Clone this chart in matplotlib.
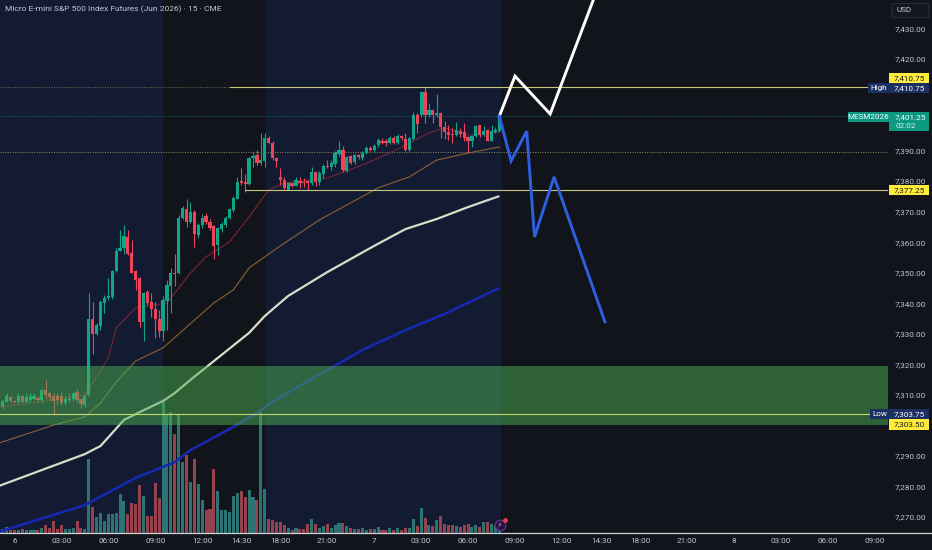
import matplotlib
matplotlib.use("Agg")
import matplotlib.pyplot as plt
from matplotlib.patches import Rectangle, FancyBboxPatch
from matplotlib.lines import Line2D

plt.rcParams['font.family'] = ['Roboto', 'DejaVu Sans']

# candles, 15 minute bars, first bar has index -3
bar_index = list(range(-3, 125))
opens = [7306.25, 7307.75, 7309.25, 7308.0, 7307.75, 7309.5, 7307.75, 7308.25, 7308.5, 7309.0,
         7308.25, 7311.5, 7310.5, 7309.5, 7309.5, 7309.5, 7307.25, 7308.25, 7308.5, 7311.0,
         7308.5, 7306.75, 7310.0, 7335.0, 7330.0, 7332.5, 7340.0, 7341.75, 7342.0, 7350.5,
         7357.25, 7358.0, 7361.75, 7356.5, 7350.5, 7348.25, 7333.75, 7343.75, 7340.25, 7338.25,
         7334.75, 7331.0, 7340.75, 7345.75, 7350.0, 7349.75, 7368.0, 7371.0, 7366.75, 7369.75,
         7362.5, 7365.5, 7368.5, 7366.75, 7365.25, 7359.0, 7364.25, 7365.75, 7368.0, 7370.5,
         7374.25, 7380.0, 7379.75, 7379.0, 7387.5, 7388.5, 7386.0, 7386.5, 7394.0, 7392.5,
         7387.5, 7381.5, 7380.25, 7377.25, 7379.25, 7378.5, 7380.0, 7379.75, 7380.0, 7379.25,
         7383.0, 7379.75, 7382.5, 7385.0, 7384.5, 7385.75, 7388.75, 7390.25, 7383.25, 7388.25,
         7386.25, 7388.5, 7387.5, 7389.25, 7391.0, 7390.25, 7391.75, 7393.25, 7393.25, 7392.5,
         7394.25, 7392.5, 7394.75, 7393.75, 7390.25, 7393.75, 7401.5, 7401.5, 7409.25, 7401.5,
         7403.25, 7401.5, 7402.25, 7397.75, 7396.25, 7395.25, 7395.0, 7396.5, 7396.0, 7394.5,
         7393.0, 7394.75, 7398.25, 7395.0, 7396.75, 7393.25, 7396.0, 7396.5]
closes = [7308.0, 7309.5, 7308.0, 7307.5, 7309.5, 7307.75, 7309.25, 7309.5, 7309.5, 7308.25,
          7311.5, 7310.0, 7309.25, 7308.0, 7308.25, 7307.25, 7308.75, 7308.75, 7310.75, 7308.25,
          7307.0, 7309.75, 7335.0, 7330.0, 7333.0, 7340.25, 7341.75, 7342.25, 7350.5, 7357.25,
          7358.25, 7362.0, 7356.25, 7350.0, 7347.75, 7333.75, 7343.25, 7340.0, 7338.25, 7334.75,
          7331.0, 7341.0, 7346.0, 7350.0, 7349.5, 7368.0, 7371.25, 7366.75, 7370.0, 7362.75,
          7365.5, 7368.0, 7366.5, 7364.75, 7358.75, 7364.75, 7366.0, 7368.0, 7370.75, 7374.5,
          7379.75, 7379.25, 7379.0, 7387.5, 7388.25, 7386.0, 7387.0, 7394.0, 7392.5, 7387.5,
          7386.5, 7380.5, 7377.75, 7379.5, 7378.5, 7380.25, 7379.5, 7379.25, 7379.25, 7383.0,
          7379.75, 7382.75, 7385.0, 7384.5, 7386.0, 7389.25, 7390.25, 7383.5, 7387.75, 7386.0,
          7388.5, 7387.75, 7389.25, 7391.0, 7390.25, 7391.5, 7393.5, 7392.5, 7392.5, 7394.25,
          7392.5, 7394.75, 7394.0, 7390.25, 7394.0, 7401.5, 7398.75, 7409.25, 7401.5, 7403.25,
          7401.5, 7402.25, 7397.75, 7396.0, 7395.0, 7395.0, 7396.75, 7395.5, 7394.0, 7393.0,
          7394.75, 7398.0, 7395.0, 7396.5, 7393.25, 7396.5, 7396.75, 7401.25]
highs = [7308.25, 7310.75, 7309.5, 7308.25, 7310.5, 7310.0, 7310.5, 7310.5, 7310.5, 7309.5,
         7312.0, 7314.75, 7311.0, 7310.5, 7310.5, 7311.0, 7309.5, 7310.5, 7311.0, 7312.0,
         7308.75, 7310.25, 7343.25, 7340.25, 7333.5, 7341.0, 7342.75, 7348.25, 7351.0, 7358.0,
         7364.0, 7365.75, 7364.0, 7360.75, 7351.0, 7348.75, 7343.75, 7344.25, 7343.25, 7340.5,
         7337.75, 7342.25, 7347.5, 7351.5, 7356.25, 7369.0, 7371.75, 7374.25, 7373.25, 7370.5,
         7366.25, 7369.25, 7369.5, 7367.75, 7365.75, 7365.0, 7366.75, 7368.5, 7371.0, 7375.0,
         7381.5, 7384.25, 7382.5, 7388.0, 7390.0, 7390.25, 7395.75, 7395.75, 7394.75, 7393.0,
         7387.75, 7384.25, 7381.5, 7379.75, 7379.5, 7381.5, 7381.5, 7381.0, 7380.5, 7384.5,
         7383.0, 7383.25, 7385.5, 7387.0, 7387.0, 7390.0, 7393.25, 7391.5, 7388.25, 7388.5,
         7388.75, 7389.0, 7389.75, 7391.5, 7391.5, 7392.25, 7394.0, 7394.0, 7393.75, 7394.75,
         7394.75, 7395.5, 7395.0, 7395.75, 7394.5, 7402.5, 7402.25, 7409.5, 7410.75, 7405.75,
         7403.5, 7408.5, 7402.5, 7399.75, 7398.5, 7397.25, 7399.5, 7397.25, 7399.0, 7394.75,
         7395.0, 7398.5, 7398.5, 7398.0, 7397.0, 7398.5, 7397.75, 7402.0]
lows = [7305.5, 7307.5, 7307.75, 7307.25, 7307.25, 7307.25, 7307.5, 7307.75, 7308.25, 7307.5,
        7307.5, 7308.75, 7308.25, 7303.5, 7306.75, 7306.75, 7306.75, 7307.75, 7308.0, 7307.75,
        7305.75, 7306.0, 7309.5, 7323.25, 7329.5, 7331.25, 7336.75, 7341.0, 7341.5, 7350.25,
        7357.0, 7356.25, 7355.75, 7349.75, 7344.25, 7332.25, 7327.5, 7339.5, 7335.5, 7328.5,
        7329.0, 7327.5, 7331.25, 7336.75, 7345.5, 7349.5, 7367.75, 7365.0, 7366.25, 7358.5,
        7361.25, 7364.75, 7366.0, 7364.0, 7354.5, 7355.75, 7363.5, 7365.0, 7367.5, 7370.0,
        7374.0, 7378.75, 7376.5, 7378.75, 7384.75, 7385.25, 7385.25, 7384.75, 7392.25, 7387.0,
        7384.5, 7378.75, 7377.25, 7377.0, 7378.0, 7378.25, 7377.75, 7378.0, 7377.25, 7378.75,
        7378.25, 7378.75, 7381.0, 7384.25, 7383.75, 7384.75, 7388.25, 7383.0, 7383.0, 7385.75,
        7385.75, 7387.25, 7387.0, 7389.0, 7389.75, 7389.75, 7391.25, 7392.25, 7391.5, 7392.25,
        7392.25, 7392.25, 7393.5, 7390.0, 7390.0, 7393.5, 7395.75, 7401.0, 7399.0, 7401.0,
        7399.0, 7401.0, 7394.0, 7393.75, 7393.5, 7392.5, 7394.75, 7394.5, 7393.0, 7389.25,
        7391.25, 7394.5, 7394.5, 7394.75, 7393.0, 7393.0, 7395.75, 7396.25]
volumes = [13, 18, 8, 8, 8, 11, 8, 8, 10, 10, 15, 23, 15, 36, 11, 23, 11, 11, 15, 35, 15, 13,
           223, 78, 48, 60, 35, 56, 56, 61, 118, 95, 56, 90, 88, 143, 110, 50, 50, 151, 106,
           393, 353, 363, 298, 353, 213, 233, 153, 223, 146, 98, 68, 73, 193, 125, 68, 68, 63,
           110, 120, 126, 108, 130, 108, 100, 363, 133, 43, 40, 32, 33, 23, 15, 9, 15, 13, 12,
           27, 42, 27, 15, 20, 27, 15, 25, 29, 29, 22, 16, 12, 12, 16, 10, 12, 12, 17, 10, 10,
           15, 10, 15, 10, 16, 15, 42, 20, 75, 45, 25, 20, 38, 50, 27, 23, 23, 22, 18, 25, 27,
           19, 23, 18, 34, 33, 28, 20, 15]

# moving averages, read at a few bars
ma_red_x = [-4, 10, 18, 20, 24, 26, 31, 39, 45, 49, 55, 60, 65, 69, 80, 89, 96, 100, 106, 110, 116, 124]
ma_red = [7306, 7308.3, 7310, 7313.9, 7322.1, 7331.9, 7338.5, 7340.1, 7349.9, 7355.2, 7360.1,
          7368.3, 7377.1, 7379.4, 7381, 7385.3, 7389.2, 7391.8, 7395.8, 7397.4, 7395.1, 7396.1]
ma_orange_x = [-4, 10, 18, 22, 26, 31, 38, 44, 51, 56, 60, 68, 78, 93, 101, 108, 116, 124]
ma_orange = [7294.2, 7300.1, 7302.8, 7307.3, 7314.2, 7321.1, 7325.4, 7332.2, 7340.1, 7344.4,
             7351.6, 7358.8, 7367.3, 7377.8, 7381.4, 7386.9, 7389.2, 7391.2]
ma_white_x = [-4, 18, 22, 25, 28, 31, 38, 41, 45, 52, 60, 64, 70, 80, 92, 100, 108, 116, 124]
ma_white = [7280.15, 7290.6, 7293.25, 7297.5, 7301.8, 7303.7, 7308, 7310.6, 7314.9, 7322.1,
            7330.3, 7335.8, 7342.4, 7350.2, 7358.8, 7364.3, 7367.6, 7371.5, 7375.1]
ma_blue_x = [-4, 18, 31, 38, 41, 45, 56, 62, 66, 75, 89, 100, 110, 124]
ma_blue = [7265.1, 7273.9, 7282.8, 7286.4, 7288, 7291.9, 7299.5, 7304.1, 7307.7, 7314.5,
           7324.7, 7331.2, 7336.5, 7345]

# hand drawn scenarios
path_up_x = [124, 128, 137, 149]
path_up = [7401.25, 7414.4, 7402, 7442.6]
path_down_x = [124, 127, 131, 133, 138, 151]
path_down = [7401.25, 7386.6, 7396.4, 7361.7, 7381.4, 7333.9]

tick_bars = [0, 12, 24, 36, 48, 58, 68, 80, 92, 104, 116, 128, 140, 150, 160, 172, 184, 196, 208, 220]
tick_names = ['6', '03:00', '06:00', '09:00', '12:00', '14:30', '18:00', '21:00', '7', '03:00',
              '06:00', '09:00', '12:00', '14:30', '18:00', '21:00', '8', '03:00', '06:00', '09:00']
price_ticks = [7430, 7420, 7390, 7380, 7370, 7360, 7350, 7340, 7330, 7320, 7310, 7290, 7280, 7270]

high_level = 7410.75
low_level = 7303.75
mid_level = 7377.25
dotted_level = 7389.5
last_price = 7401.25
zone_top = 7319.5
zone_bottom = 7300.0

navy = '#131b33'
dark = '#12141c'
up = '#0ea58b'
down = '#ee4459'
txt = '#c4c7ce'
pale = '#c6c67c'

fig = plt.figure(figsize=(9.32, 5.5), dpi=100, facecolor=dark)
pos = [0, 17 / 550, 888 / 932, 533 / 550]
ax_v = fig.add_axes(pos, facecolor=dark)
ax = fig.add_axes(pos, facecolor='none')

xlim = (-3.7, 223.4)
ylim = (7264.75, 7439.33)
ax.set_xlim(xlim)
ax.set_ylim(ylim)
ax_v.set_xlim(xlim)
ax_v.set_ylim(0, 1599)
ax_v.axis('off')

# sessions
ax_v.axvspan(xlim[0], 38, color=navy, lw=0)
ax_v.axvspan(64.3, 124.5, color=navy, lw=0)

vol_colors = ['#2c7374' if c >= o else '#96424d' for o, c in zip(opens, closes)]
ax_v.bar(bar_index, volumes, width=0.78, color=vol_colors, lw=0)

# candles
colors = [up if c >= o else down for o, c in zip(opens, closes)]
ax.vlines(bar_index, lows, highs, colors=colors, lw=0.8, zorder=3)
body_low = [min(o, c) for o, c in zip(opens, closes)]
body_h = [max(abs(c - o), 0.4) for o, c in zip(opens, closes)]
ax.bar(bar_index, body_h, bottom=body_low, width=0.82, color=colors, lw=0, zorder=3)

ax.plot(ma_red_x, ma_red, color='#7a2536', lw=0.8, zorder=2)
ax.plot(ma_orange_x, ma_orange, color='#8a6236', lw=0.8, zorder=2)
ax.plot(ma_white_x, ma_white, color='#d9dcc6', lw=1.6, zorder=2, solid_capstyle='butt')
ax.plot(ma_blue_x, ma_blue, color='#1728b5', lw=1.8, zorder=2, solid_capstyle='butt')

# demand zone
ax.axhspan(zone_bottom, zone_top, color='#4caf50', alpha=0.5, lw=0, zorder=4)

# levels
ax.plot([-3.7, 55], [high_level, high_level], color=pale, lw=0.7, ls=(0, (1, 1.5)), alpha=0.5, zorder=1)
ax.plot([55, 223.4], [high_level, high_level], color=pale, lw=0.8, zorder=5)
ax.plot([59, 223.4], [mid_level, mid_level], color=pale, lw=0.8, zorder=5)
ax.axhline(low_level, color='#c6d968', lw=0.8, zorder=5)
ax.axhline(dotted_level, color='#8f8f55', lw=0.7, ls=(0, (1, 1.5)), zorder=1)
ax.axhline(last_price, color='#0f6f63', lw=0.7, ls=(0, (1, 1.5)), zorder=1)

ax.plot(path_up_x, path_up, color='white', lw=2.1, zorder=6, solid_joinstyle='miter')
ax.plot(path_down_x, path_down, color='#2d5fe0', lw=2.1, zorder=6, solid_joinstyle='miter')

# axes
for s in ['top', 'left', 'right', 'bottom']:
    ax.spines[s].set_visible(False)
fig.add_artist(Line2D([0, 1], [17 / 550, 17 / 550], color='#d0d2d6', lw=0.9))
ax.set_xticks(tick_bars)
ax.set_xticklabels(tick_names, color=txt, fontsize=5.9)
ax.tick_params(axis='x', length=0, pad=3.5)
ax.yaxis.tick_right()
ax.set_yticks(price_ticks)
ax.set_yticklabels([f'{p:,.2f}' for p in price_ticks], color=txt, fontsize=5.9)
ax.tick_params(axis='y', length=0, pad=5)

fig.text(5 / 932, 1 - 9.5 / 550, 'Micro E-mini S&P 500 Index Futures (Jun 2026) · 15 · CME',
         color='#c4c7ce', fontsize=6.0, va='center', ha='left')


def px_x(x):
    return x / 932


def px_y(y):
    return 1 - y / 550


def box(x0, x1, y0, y1, fc, label, color='white'):
    fig.add_artist(Rectangle((px_x(x0), px_y(y1)), (x1 - x0) / 932, (y1 - y0) / 550,
                             transform=fig.transFigure, fc=fc, lw=0))
    fig.text(px_x((x0 + x1) / 2), px_y((y0 + y1) / 2), label, color=color, fontsize=5.9,
             ha='center', va='center')


box(889, 929, 73, 83, '#ffeb3b', '7,410.75', '#1a1a1a')
box(868, 889, 83, 93, '#1c2f63', 'High')
box(889, 929, 83, 93, '#1c2f63', '7,410.75')
box(848, 889, 112, 122, '#0b9981', 'MESM2026')
box(889, 929, 112, 131, '#0b9981', '')
fig.text(px_x(895), px_y(117), '7,401.25', color='white', fontsize=5.9, ha='left', va='center')
fig.text(px_x(895), px_y(125.5), '02:02', color='#d6efe9', fontsize=5.9, ha='left', va='center')
box(889, 929, 185, 195, '#ffeb3b', '7,377.25', '#1a1a1a')
box(870, 889, 408.5, 419, '#1c2f63', 'Low')
box(889, 929, 408.5, 419, '#1c2f63', '7,303.75')
box(889, 929, 419, 429.5, '#ffeb3b', '7,303.50', '#1a1a1a')

# currency button
fig.add_artist(FancyBboxPatch((px_x(893), px_y(17)), 35 / 932, 13 / 550,
               boxstyle='round,pad=0.001', transform=fig.transFigure, fc='#15171f', ec='#2a2d36', lw=0.8))
fig.text(px_x(904), px_y(10.5), 'USD', color=txt, fontsize=5.9, ha='center', va='center')

# flash icon
ax.scatter([124.1], [7267.3], s=58, fc='#241638', ec='#7b2fa0', lw=0.8, zorder=8, clip_on=False)
ax.text(124.1, 7267.3, '⚡', color='#c678dd', fontsize=6, ha='center', va='center', zorder=9,
        family='DejaVu Sans')
ax.scatter([125.4], [7269.1], s=6, c='#f23645', zorder=9)

fig.savefig('out.png', dpi=100, facecolor=dark)
